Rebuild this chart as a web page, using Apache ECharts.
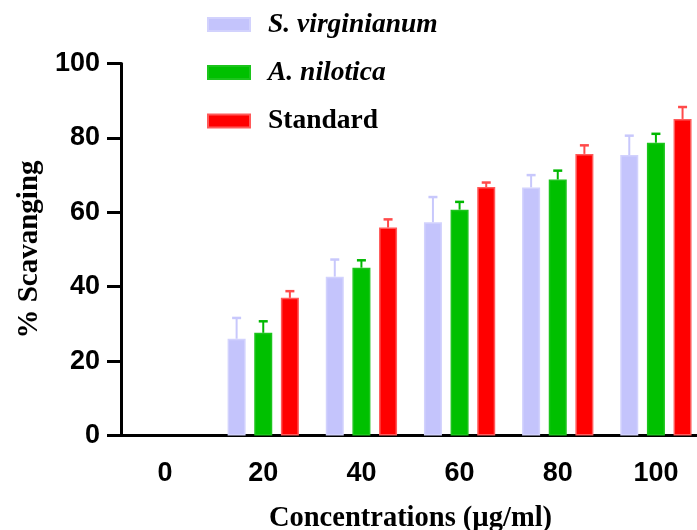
<!DOCTYPE html>
<html><head><meta charset="utf-8">
<script src="https://cdn.jsdelivr.net/npm/echarts@6/dist/echarts.min.js"></script>
<style>html,body{margin:0;padding:0;background:#fff}#c{width:697px;height:530px}</style>
</head><body><div id="c"></div>
<script>
const categories = ['0', '20', '40', '60', '80', '100'];
const seriesNames = ['S. virginianum', 'A. nilotica', 'Standard'];
const virginianum = [null, 26.0, 42.7, 57.3, 66.7, 75.4];
const virginianumSD = [null, 5.6, 4.6, 6.8, 3.3, 5.2];
const nilotica = [null, 27.6, 45.1, 60.7, 68.8, 78.7];
const niloticaSD = [null, 3.1, 2.0, 2.1, 2.4, 2.4];
const standard = [null, 37.0, 55.9, 66.8, 75.7, 85.1];
const standardSD = [null, 1.8, 2.2, 1.2, 2.3, 3.2];
const yTicks = [0, 20, 40, 60, 80, 100];

const fills = ['#c4c4fc', '#00c000', '#ff0000'];
const borders = ['#d2d2fd', '#1cc41c', '#ff5a5a'];
const errColors = ['#c8c8fc', '#00b800', '#ff4a4a'];
const BAR_W = 18, BAR_GAP = 0.48;
const step = BAR_W * (1 + BAR_GAP);

function errData(vals, sds) {
  const out = [];
  vals.forEach((v, i) => { if (v != null) out.push([i, v, sds[i]]); });
  return out;
}
function errRender(k) {
  const offset = (k - 1) * step;
  const color = errColors[k];
  return function (params, api) {
    const i = api.value(0), m = api.value(1), s = api.value(2);
    const base = api.coord([i, m]);
    const top = api.coord([i, m + s]);
    const x = base[0] + offset;
    return {
      type: 'group', children: [
        { type: 'line', shape: { x1: x, y1: base[1], x2: x, y2: top[1] }, style: { stroke: color, lineWidth: 2 } },
        { type: 'line', shape: { x1: x - 4.5, y1: top[1], x2: x + 4.5, y2: top[1] }, style: { stroke: color, lineWidth: 2.5 } }
      ]
    };
  };
}
const means = [virginianum, nilotica, standard];
const sds = [virginianumSD, niloticaSD, standardSD];

const series = [];
means.forEach((vals, k) => {
  series.push({
    name: seriesNames[k], type: 'bar', data: vals, barWidth: BAR_W, barGap: (BAR_GAP * 100) + '%',
    itemStyle: { color: fills[k], borderColor: borders[k], borderWidth: 1.5 }, z: 3
  });
});
means.forEach((vals, k) => {
  series.push({
    type: 'custom', data: errData(vals, sds[k]), renderItem: errRender(k), z: 2, silent: true
  });
});

const chart = echarts.init(document.getElementById('c'));
chart.setOption({
  animation: false,
  backgroundColor: '#fff',
  grid: { left: 116, right: -8, top: 63.5, bottom: 94.5, containLabel: false, outerBoundsMode: 'none' },
  legend: {
    data: seriesNames, orient: 'vertical', left: 202, top: 6,
    itemWidth: 42, itemHeight: 13, itemGap: 21, icon: 'rect',
    formatter: n => n === 'Standard' ? '{n|' + n + '}' : '{i|' + n + '}',
    textStyle: {
      padding: [0, 0, 0, 13],
      rich: {
        i: { fontFamily: 'Liberation Serif', fontStyle: 'italic', fontWeight: 'bold', fontSize: 27.5, color: '#000' },
        n: { fontFamily: 'Liberation Serif', fontWeight: 'bold', fontSize: 27.5, color: '#000' }
      }
    }
  },
  xAxis: {
    type: 'category', data: categories,
    axisLine: { lineStyle: { color: '#000', width: 3 } },
    axisTick: { alignWithLabel: true, length: 18, lineStyle: { color: '#000', width: 3 } },
    axisLabel: { color: '#000', fontFamily: 'Liberation Sans', fontWeight: 'bold', fontSize: 27, margin: 25 },
    name: 'Concentrations (µg/ml)', nameLocation: 'middle', nameGap: 69,
    nameTextStyle: { fontFamily: 'Liberation Serif', fontWeight: 'bold', fontSize: 28.5, color: '#000' }
  },
  yAxis: {
    type: 'value', min: yTicks[0], max: yTicks[yTicks.length - 1], interval: yTicks[1] - yTicks[0], offset: -5,
    axisLine: { show: true, lineStyle: { color: '#000', width: 3 } },
    axisTick: { show: true, length: 14, lineStyle: { color: '#000', width: 3 } },
    axisLabel: { color: '#000', fontFamily: 'Liberation Sans', fontWeight: 'bold', fontSize: 27, margin: 21 },
    splitLine: { show: false },
    name: '% Scavanging', nameLocation: 'middle', nameGap: 77, nameRotate: 90,
    nameTextStyle: { fontFamily: 'Liberation Serif', fontWeight: 'bold', fontSize: 29, color: '#000' }
  },
  series: series
});
</script></body></html>
